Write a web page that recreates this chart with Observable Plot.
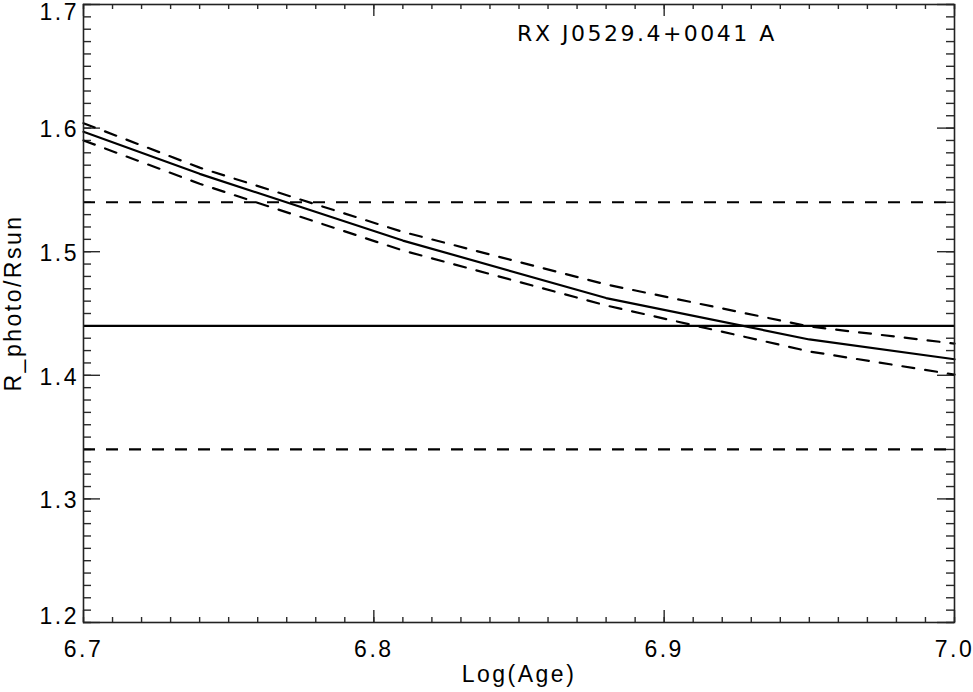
<!DOCTYPE html>
<html>
<head>
<meta charset="utf-8">
<script src="https://cdn.jsdelivr.net/npm/d3@7"></script>
<script src="https://cdn.jsdelivr.net/npm/@observablehq/plot@0.6"></script>
<style>
  html, body { margin: 0; padding: 0; background: #fff; }
  svg { display: block; }
</style>
</head>
<body>
<div id="chart"></div>
<script>
// Star label and axis titles
const starName = "RX J0529.4+0041 A";
const xTitle = "Log(Age)";
const yTitle = "R_photo/Rsun";

// Model track: photospheric radius versus log age
const logAge          = [6.70, 6.74, 6.81, 6.88, 6.95, 7.00];
const radiusModel     = [1.597, 1.563, 1.509, 1.4625, 1.429, 1.413];
const radiusModelHigh = [1.604, 1.568, 1.516, 1.4735, 1.4395, 1.4257];
const radiusModelLow  = [1.590, 1.555, 1.501, 1.4565, 1.4193, 1.4006];

// Measured radius and its error bounds
const radiusObserved = [1.44];
const radiusBounds   = [1.34, 1.54];

// Axis tick labels
const xTickValues = [6.7, 6.8, 6.9, 7.0];
const yTickValues = [1.2, 1.3, 1.4, 1.5, 1.6, 1.7];

const W = 973, H = 692;
const margin = {top: 4, right: 19, bottom: 70, left: 83};
const innerW = W - margin.left - margin.right;
const innerH = H - margin.top - margin.bottom;

const track = logAge.map((a, i) => ({
  age: a, mid: radiusModel[i], hi: radiusModelHigh[i], lo: radiusModelLow[i]
}));

// minor tick positions, ten per labelled interval
const xMinor = d3.range(0, 31).map(i => +(6.7 + i * 0.01).toFixed(2));
const yMinor = d3.range(0, 51).map(i => +(1.2 + i * 0.01).toFixed(2));
const yInner = yTickValues.slice(1, -1);

const fmt = d3.format(".1f");
const tickColor = "#2a2a2a";
const dash = "12,11";

const chart = Plot.plot({
  width: W,
  height: H,
  marginTop: margin.top,
  marginRight: margin.right,
  marginBottom: margin.bottom,
  marginLeft: margin.left,
  style: {
    background: "#fff",
    color: "#000",
    fontFamily: "'Liberation Sans', Arial, Helvetica, sans-serif",
    fontSize: "23px",
    letterSpacing: "2.5px"
  },
  x: {domain: [6.7, 7.0], axis: null, label: null},
  y: {domain: [1.2, 1.7], axis: null, label: null},
  marks: [
    // inward ticks on all four sides
    Plot.tickX(xMinor, {x: d => d, insetTop: innerH - 5, stroke: tickColor, strokeWidth: 1.4}),
    Plot.tickX(xMinor, {x: d => d, insetBottom: innerH - 5, stroke: tickColor, strokeWidth: 1.4}),
    Plot.tickX(xTickValues, {x: d => d, insetTop: innerH - 12, stroke: tickColor, strokeWidth: 1.4}),
    Plot.tickX(xTickValues, {x: d => d, insetBottom: innerH - 12, stroke: tickColor, strokeWidth: 1.4}),
    Plot.tickY(yMinor, {y: d => d, insetRight: innerW - 8, stroke: tickColor, strokeWidth: 1.4}),
    Plot.tickY(yMinor, {y: d => d, insetLeft: innerW - 8, stroke: tickColor, strokeWidth: 1.4}),
    Plot.tickY(yTickValues, {y: d => d, insetRight: innerW - 17, stroke: tickColor, strokeWidth: 1.4}),
    Plot.tickY(yTickValues, {y: d => d, insetLeft: innerW - 17, stroke: tickColor, strokeWidth: 1.4}),

    // measured radius with its bounds
    Plot.ruleY(radiusObserved, {y: d => d, stroke: "#000", strokeWidth: 2.2}),
    Plot.ruleY(radiusBounds, {y: d => d, stroke: "#000", strokeWidth: 2.2, strokeDasharray: dash}),

    // model track and its envelope
    Plot.line(track, {x: "age", y: "mid", stroke: "#000", strokeWidth: 2.2}),
    Plot.line(track, {x: "age", y: "hi", stroke: "#000", strokeWidth: 2.2, strokeDasharray: dash}),
    Plot.line(track, {x: "age", y: "lo", stroke: "#000", strokeWidth: 2.2, strokeDasharray: dash}),

    Plot.frame({stroke: "#222", strokeWidth: 1.6}),

    // tick labels
    Plot.text(xTickValues, {x: d => d, text: d => fmt(d), frameAnchor: "bottom",
      lineAnchor: "top", dy: 18, fill: "#000"}),
    Plot.text(yInner, {y: d => d, text: d => fmt(d), frameAnchor: "left",
      textAnchor: "end", dx: -4.5, dy: 2, fill: "#000"}),
    Plot.text([yTickValues[yTickValues.length - 1]], {y: d => d, text: d => fmt(d), frameAnchor: "left",
      textAnchor: "end", dx: -4.5, dy: 8.3, fill: "#000"}),
    Plot.text([yTickValues[0]], {y: d => d, text: d => fmt(d), frameAnchor: "left",
      textAnchor: "end", dx: -4.5, dy: -6.2, fill: "#000"}),

    // axis titles
    Plot.text([xTitle], {frameAnchor: "bottom", lineAnchor: "top", dy: 43, fill: "#000"}),
    Plot.text([yTitle], {frameAnchor: "left", rotate: -90, textAnchor: "middle",
      dx: -69.5, dy: -10.5, fill: "#000"}),

    // star name
    Plot.text([starName], {frameAnchor: "top-left", textAnchor: "middle", lineAnchor: "top",
      dx: 563.5, dy: 21, fontFamily: "'DejaVu Sans', sans-serif", fontSize: 22,
      fill: "#000"})
  ]
});

document.getElementById("chart").appendChild(chart);
</script>
</body>
</html>
